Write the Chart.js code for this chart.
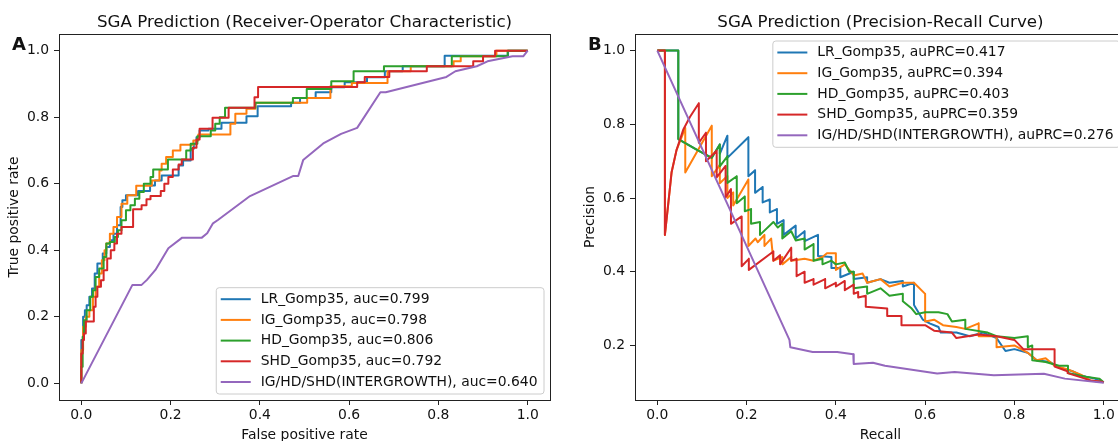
<!DOCTYPE html>
<html lang="en">
<head>
<meta charset="UTF-8">
<title>SGA Prediction</title>
<script src="https://cdn.jsdelivr.net/npm/chart.js"></script>
<style>
  html, body { margin: 0; padding: 0; background: #fff; overflow: hidden; }
  #left { position: absolute; left: 0; top: 0; width: 560px; height: 441px; }
  #right { position: absolute; left: 560px; top: 0; width: 558px; height: 441px; overflow: hidden; }
  canvas { display: block; }
</style>
</head>
<body>
<div id="left"><canvas id="rocChart" width="560" height="441"></canvas></div>
<div id="right"><canvas id="prChart" width="580" height="441"></canvas></div>
<script>
// series names and scores
const seriesNames = ['LR_Gomp35', 'IG_Gomp35', 'HD_Gomp35', 'SHD_Gomp35', 'IG/HD/SHD(INTERGROWTH)'];
const rocAuc = ['0.799', '0.798', '0.806', '0.792', '0.640'];
const prAuc = ['0.417', '0.394', '0.403', '0.359', '0.276'];
const axisTicks = [0, 0.2, 0.4, 0.6, 0.8, 1.0];
const prYTicks = [0.2, 0.4, 0.6, 0.8, 1.0];

// ROC curves [fpr, tpr] (step curves: end of each horizontal run)
const rocLR = [[0,0],[0.004,0.13],[0.008,0.2],[0.012,0.22],[0.018,0.235],[0.024,0.26],[0.03,0.285],[0.036,0.33],[0.048,0.36],[0.056,0.39],[0.064,0.41],[0.072,0.43],[0.08,0.45],[0.088,0.475],[0.092,0.53],[0.1,0.55],[0.127,0.565],[0.154,0.578],[0.165,0.595],[0.18,0.61],[0.218,0.625],[0.228,0.655],[0.245,0.67],[0.252,0.705],[0.258,0.72],[0.265,0.74],[0.285,0.76],[0.314,0.765],[0.37,0.783],[0.395,0.803],[0.47,0.833],[0.49,0.843],[0.525,0.858],[0.56,0.875],[0.59,0.89],[0.64,0.905],[0.68,0.92],[0.72,0.938],[0.814,0.953],[0.956,0.985],[1,1]];
const rocIG = [[0,0],[0.004,0.1],[0.01,0.17],[0.018,0.2],[0.026,0.22],[0.032,0.26],[0.04,0.29],[0.046,0.33],[0.052,0.37],[0.056,0.4],[0.064,0.42],[0.072,0.45],[0.08,0.47],[0.09,0.5],[0.103,0.54],[0.123,0.565],[0.158,0.594],[0.175,0.61],[0.18,0.64],[0.19,0.66],[0.205,0.68],[0.222,0.7],[0.251,0.717],[0.262,0.73],[0.334,0.748],[0.345,0.78],[0.37,0.81],[0.39,0.825],[0.506,0.843],[0.558,0.858],[0.606,0.893],[0.686,0.903],[0.738,0.938],[0.834,0.953],[0.85,0.968],[0.93,0.983],[1,1]];
const rocHD = [[0,0],[0.003,0.05],[0.006,0.14],[0.012,0.19],[0.02,0.22],[0.026,0.26],[0.032,0.28],[0.04,0.32],[0.05,0.345],[0.056,0.38],[0.064,0.42],[0.075,0.425],[0.082,0.44],[0.09,0.46],[0.1,0.49],[0.11,0.52],[0.12,0.535],[0.13,0.555],[0.14,0.575],[0.155,0.6],[0.161,0.62],[0.194,0.643],[0.235,0.673],[0.245,0.7],[0.26,0.72],[0.29,0.743],[0.3,0.76],[0.31,0.78],[0.322,0.8],[0.39,0.828],[0.474,0.843],[0.505,0.858],[0.56,0.885],[0.61,0.908],[0.678,0.938],[0.83,0.953],[0.955,0.983],[1,1]];
const rocSHD = [[0,0],[0.003,0.09],[0.006,0.13],[0.01,0.15],[0.028,0.186],[0.032,0.23],[0.036,0.26],[0.044,0.29],[0.05,0.31],[0.058,0.34],[0.066,0.375],[0.074,0.4],[0.08,0.42],[0.09,0.45],[0.116,0.47],[0.135,0.523],[0.146,0.535],[0.155,0.553],[0.178,0.563],[0.186,0.578],[0.195,0.6],[0.205,0.62],[0.218,0.643],[0.225,0.658],[0.25,0.673],[0.258,0.708],[0.265,0.733],[0.294,0.765],[0.33,0.798],[0.388,0.828],[0.396,0.86],[0.618,0.891],[0.635,0.905],[0.69,0.921],[0.774,0.938],[0.878,0.953],[0.9,0.968],[0.927,0.983],[1,1]];
const rocIGR = [[0,0],[0.1145,0.296],[0.135,0.296],[0.147,0.311],[0.166,0.341],[0.195,0.406],[0.226,0.438],[0.27,0.438],[0.282,0.451],[0.295,0.481],[0.306,0.491],[0.378,0.563],[0.474,0.623],[0.486,0.623],[0.497,0.671],[0.542,0.721],[0.582,0.75],[0.618,0.768],[0.67,0.875],[0.682,0.875],[0.818,0.921],[0.838,0.938],[0.886,0.953],[0.91,0.968],[0.966,0.983],[0.99,0.983],[1,1]];

// precision-recall curves [recall, precision]
const prLR = [[0,1],[0.047,1],[0.047,0.76],[0.09,0.73],[0.122,0.709],[0.14,0.745],[0.14,0.72],[0.157,0.769],[0.157,0.709],[0.204,0.765],[0.204,0.659],[0.219,0.675],[0.219,0.614],[0.236,0.63],[0.236,0.588],[0.252,0.596],[0.252,0.561],[0.268,0.57],[0.268,0.53],[0.283,0.54],[0.283,0.5],[0.31,0.525],[0.31,0.49],[0.33,0.51],[0.33,0.483],[0.36,0.5],[0.36,0.443],[0.39,0.44],[0.39,0.41],[0.41,0.41],[0.41,0.385],[0.44,0.4],[0.44,0.38],[0.47,0.385],[0.47,0.37],[0.5,0.38],[0.52,0.37],[0.55,0.375],[0.55,0.36],[0.575,0.37],[0.575,0.31],[0.595,0.27],[0.61,0.26],[0.63,0.25],[0.635,0.235],[0.67,0.235],[0.7,0.225],[0.73,0.235],[0.76,0.22],[0.78,0.185],[0.8,0.19],[0.83,0.18],[0.85,0.16],[0.88,0.155],[0.9,0.14],[0.93,0.13],[0.953,0.117],[0.98,0.11],[1,0.1]];
const prIG = [[0,1],[0.017,1],[0.017,0.5],[0.025,0.59],[0.032,0.67],[0.043,0.73],[0.0626,0.79],[0.0626,0.669],[0.122,0.796],[0.122,0.659],[0.14,0.69],[0.14,0.64],[0.157,0.66],[0.157,0.6],[0.17,0.615],[0.17,0.58],[0.204,0.65],[0.204,0.47],[0.22,0.49],[0.225,0.48],[0.24,0.5],[0.24,0.47],[0.255,0.49],[0.26,0.43],[0.28,0.44],[0.28,0.42],[0.3,0.44],[0.3,0.43],[0.33,0.435],[0.35,0.43],[0.37,0.44],[0.38,0.45],[0.4,0.45],[0.4,0.405],[0.42,0.42],[0.44,0.39],[0.46,0.395],[0.47,0.37],[0.5,0.38],[0.52,0.36],[0.55,0.37],[0.575,0.37],[0.6,0.34],[0.6,0.265],[0.62,0.27],[0.64,0.255],[0.67,0.25],[0.69,0.245],[0.72,0.26],[0.72,0.225],[0.76,0.225],[0.76,0.195],[0.8,0.2],[0.83,0.18],[0.85,0.16],[0.87,0.165],[0.89,0.145],[0.92,0.135],[0.95,0.12],[0.97,0.105],[1,0.1]];
const prHD = [[0,1],[0.047,1],[0.047,0.76],[0.09,0.73],[0.122,0.709],[0.14,0.745],[0.14,0.686],[0.157,0.713],[0.157,0.641],[0.178,0.659],[0.178,0.586],[0.196,0.604],[0.196,0.564],[0.21,0.57],[0.21,0.53],[0.23,0.535],[0.23,0.5],[0.26,0.535],[0.27,0.52],[0.28,0.53],[0.28,0.49],[0.3,0.51],[0.31,0.485],[0.33,0.49],[0.33,0.46],[0.35,0.475],[0.35,0.43],[0.37,0.435],[0.37,0.42],[0.39,0.43],[0.4,0.42],[0.42,0.425],[0.43,0.4],[0.44,0.4],[0.44,0.355],[0.47,0.36],[0.47,0.34],[0.5,0.355],[0.52,0.335],[0.55,0.34],[0.55,0.32],[0.57,0.3],[0.58,0.285],[0.6,0.29],[0.63,0.29],[0.65,0.285],[0.66,0.265],[0.69,0.27],[0.69,0.245],[0.74,0.235],[0.76,0.225],[0.8,0.22],[0.83,0.225],[0.83,0.195],[0.84,0.2],[0.84,0.16],[0.87,0.155],[0.9,0.145],[0.92,0.145],[0.92,0.125],[0.96,0.115],[0.99,0.11],[1,0.1]];
const prSHD = [[0,1],[0.017,1],[0.017,0.5],[0.025,0.59],[0.032,0.67],[0.043,0.73],[0.058,0.785],[0.073,0.82],[0.093,0.857],[0.093,0.75],[0.109,0.777],[0.109,0.7],[0.133,0.728],[0.133,0.656],[0.153,0.687],[0.153,0.602],[0.165,0.624],[0.165,0.53],[0.189,0.55],[0.189,0.415],[0.205,0.435],[0.205,0.405],[0.26,0.455],[0.26,0.43],[0.275,0.445],[0.275,0.42],[0.3,0.465],[0.3,0.43],[0.312,0.435],[0.312,0.388],[0.33,0.4],[0.33,0.37],[0.35,0.38],[0.35,0.365],[0.376,0.38],[0.376,0.355],[0.4,0.37],[0.4,0.36],[0.42,0.375],[0.42,0.35],[0.44,0.365],[0.44,0.34],[0.45,0.345],[0.45,0.33],[0.467,0.335],[0.467,0.305],[0.515,0.3],[0.515,0.28],[0.547,0.28],[0.547,0.255],[0.6,0.255],[0.62,0.24],[0.66,0.235],[0.67,0.22],[0.72,0.23],[0.76,0.225],[0.8,0.215],[0.82,0.19],[0.89,0.19],[0.89,0.143],[0.919,0.13],[0.919,0.125],[0.953,0.112],[0.97,0.105],[1,0.101]];
const prIGR = [[0,1],[0.296,0.215],[0.298,0.195],[0.348,0.182],[0.403,0.182],[0.439,0.176],[0.44,0.15],[0.483,0.153],[0.51,0.145],[0.627,0.124],[0.666,0.128],[0.754,0.119],[0.866,0.123],[0.913,0.11],[1,0.099]];

const colors = ['#1f77b4', '#ff7f0e', '#2ca02c', '#d62728', '#9467bd'];
const FONT = '"DejaVu Sans", "Liberation Sans", sans-serif';
const INK = '#111';
const FS = 13.9;

const toXY = arr => arr.map(p => ({x: p[0], y: p[1]}));

function makeDatasets(curves, scores, key, steppedMain) {
  return curves.map((c, i) => ({
    label: seriesNames[i] + ', ' + key + '=' + scores[i],
    data: toXY(c),
    borderColor: colors[i],
    backgroundColor: colors[i],
    borderWidth: 2,
    pointRadius: 0,
    fill: false,
    tension: 0,
    stepped: (steppedMain && i < 4) ? 'after' : false,
    borderJoinStyle: 'round',
    order: 5 - i
  }));
}

function makeScale(min, max, ticks, title, fitSize, isY, titlePad) {
  return {
    type: 'linear',
    min: min,
    max: max,
    afterBuildTicks: s => { s.ticks = ticks.map(v => ({value: v})); },
    afterFit: s => { if (isY) s.width = fitSize; else s.height = fitSize; },
    ticks: {
      color: INK,
      font: {family: FONT, size: FS},
      padding: isY ? 5 : 2.5,
      autoSkip: false,
      maxRotation: 0,
      callback: v => v.toFixed(1)
    },
    grid: {display: true, drawOnChartArea: false, drawTicks: true, tickLength: 5, tickColor: '#222', tickWidth: 1},
    border: {display: true, color: '#222', width: 1},
    title: {
      display: true,
      text: title,
      color: INK,
      font: {family: FONT, size: FS, lineHeight: isY ? 1 : 0.78},
      padding: isY ? {top: titlePad, bottom: 0} : {top: 0, bottom: titlePad}
    }
  };
}

// frame, panel title, panel letter and in-axes legend (matplotlib style)
const decor = {
  id: 'decor',
  afterDraw(chart, args, opts) {
    const ctx = chart.ctx, ca = chart.chartArea;
    ctx.save();
    ctx.strokeStyle = '#222';
    ctx.lineWidth = 1;
    ctx.strokeRect(Math.round(ca.left) + 0.5, Math.round(ca.top) + 0.5,
      Math.round(ca.right) - Math.round(ca.left), Math.round(ca.bottom) - Math.round(ca.top));

    ctx.fillStyle = INK;
    ctx.font = '16.7px ' + FONT;
    ctx.textAlign = 'center';
    ctx.textBaseline = 'alphabetic';
    ctx.fillText(opts.title, (ca.left + ca.right) / 2, 27.2);

    ctx.font = 'bold 18px ' + FONT;
    ctx.textAlign = 'left';
    ctx.fillText(opts.letter, opts.letterX, 50);

    // legend box
    const sets = chart.data.datasets;
    ctx.font = FS + 'px ' + FONT;
    const tw = Math.max(...sets.map(d => ctx.measureText(d.label).width));
    const rowH = 20.7;
    const w = 45 + tw + 6;
    const h = 12 + rowH * (sets.length - 1) + 11.5;
    const x = ca.right - 6.5 - w;
    const y = opts.legendLoc === 'upper right' ? ca.top + 6.5 : ca.bottom - 6.5 - h;
    ctx.beginPath();
    ctx.roundRect(x + 0.5, y + 0.5, w, h, 3);
    ctx.fillStyle = 'rgba(255,255,255,0.8)';
    ctx.fill();
    ctx.strokeStyle = '#cccccc';
    ctx.stroke();
    sets.forEach((d, i) => {
      const cy = y + 12 + i * rowH;
      ctx.beginPath();
      ctx.moveTo(x + 5, cy);
      ctx.lineTo(x + 35, cy);
      ctx.strokeStyle = d.borderColor;
      ctx.lineWidth = 2;
      ctx.stroke();
      ctx.fillStyle = INK;
      ctx.textAlign = 'left';
      ctx.textBaseline = 'middle';
      ctx.fillText(d.label, x + 45, cy);
    });
    ctx.restore();
  }
};

function commonOptions() {
  return {
    responsive: false,
    animation: false,
    events: [],
    plugins: {legend: {display: false}, tooltip: {enabled: false}}
  };
}

const rocOpts = commonOptions();
rocOpts.layout = {padding: {top: 34, right: 10, left: 0, bottom: 0}};
rocOpts.scales = {
  x: makeScale(-0.05, 1.05, axisTicks, 'False positive rate', 41, false, 0),
  y: makeScale(-0.05, 1.05, axisTicks, 'True positive rate', 59, true, 7.5)
};
rocOpts.plugins.decor = {title: 'SGA Prediction (Receiver-Operator Characteristic)', letter: 'A', letterX: 12, legendLoc: 'lower right'};

new Chart(document.getElementById('rocChart'), {
  type: 'line',
  data: {datasets: makeDatasets([rocLR, rocIG, rocHD, rocSHD, rocIGR], rocAuc, 'auc', true)},
  options: rocOpts,
  plugins: [decor]
});

const prOpts = commonOptions();
prOpts.layout = {padding: {top: 34, right: 14, left: 0, bottom: 0}};
prOpts.scales = {
  x: makeScale(-0.05, 1.05, axisTicks, 'Recall', 41, false, 0),
  y: makeScale(0.052, 1.045, prYTicks, 'Precision', 75, true, 23.5)
};
prOpts.plugins.decor = {title: 'SGA Prediction (Precision-Recall Curve)', letter: 'B', letterX: 28, legendLoc: 'upper right'};

new Chart(document.getElementById('prChart'), {
  type: 'line',
  data: {datasets: makeDatasets([prLR, prIG, prHD, prSHD, prIGR], prAuc, 'auPRC', false)},
  options: prOpts,
  plugins: [decor]
});
</script>
</body>
</html>
